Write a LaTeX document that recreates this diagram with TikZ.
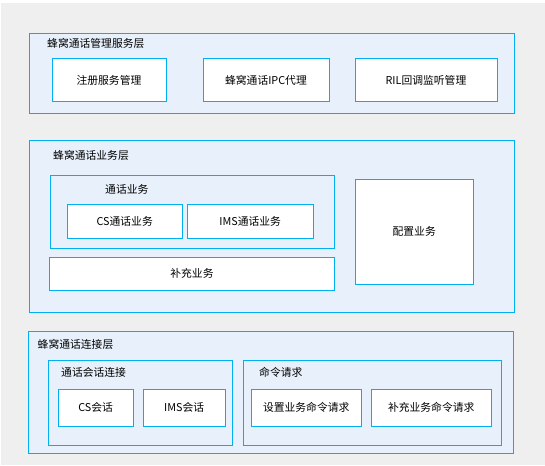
\documentclass[tikz,border=0pt]{standalone}
\usepackage{fontspec}
\newfontfamily\cjk{Noto Sans CJK SC}
\begin{document}
\begin{tikzpicture}[x=1pt,y=-1pt,
  every node/.style={font=\cjk\fontsize{10.8}{13}\selectfont, text=black},
  layer/.style={draw=cyanline, fill=layerfill, line width=0.9pt, inner sep=0, anchor=north west},
  group/.style={draw=cyanline, fill=layerfill, line width=0.9pt, inner sep=0, anchor=north west},
  leaf/.style={draw=cyanline, fill=white, line width=0.9pt, inner sep=0, anchor=north west, align=center},
  ttl/.style={anchor=west, inner sep=0}]
\definecolor{cyanline}{HTML}{00B0F0}
\definecolor{layerfill}{HTML}{E8F1FB}
\definecolor{bggray}{HTML}{EFEFEF}
\useasboundingbox (0,0) rectangle (545,465);
\fill[bggray] (1,3) rectangle (545,465);
% Layer 1
\node[layer, minimum width=485pt, minimum height=80pt] (L1) at (28.5,33) {};
\node[ttl] (L1t) at (47,43.5) {蜂窝通话管理服务层};
\node[leaf, minimum width=114pt, minimum height=43pt] (a1) at (51.5,58) {注册服务管理};
\node[leaf, minimum width=126pt, minimum height=43pt] (a2) at (202.5,58) {蜂窝通话IPC代理};
\node[leaf, minimum width=142pt, minimum height=43pt] (a3) at (354.5,58) {RIL回调监听管理};
% Layer 2
\node[layer, minimum width=485pt, minimum height=171pt] (L2) at (28.5,140.5) {};
\node[ttl] (L2t) at (53,155) {蜂窝通话业务层};
\node[group, minimum width=284pt, minimum height=73pt] (g1) at (50,174.5) {};
\node[ttl] (g1t) at (105,189) {通话业务};
\node[leaf, minimum width=114.5pt, minimum height=34pt] (b1) at (67,203.5) {CS通话业务};
\node[leaf, minimum width=125.5pt, minimum height=34pt] (b2) at (187,203.5) {IMS通话业务};
\node[leaf, minimum width=285pt, minimum height=33pt] (b3) at (49,256.5) {补充业务};
\node[leaf, minimum width=118.5pt, minimum height=105pt] (b4) at (354.5,178.5) {配置业务};
% Layer 3
\node[layer, minimum width=485pt, minimum height=122.5pt] (L3) at (28,330.5) {};
\node[ttl] (L3t) at (37.5,344) {蜂窝通话连接层};
\node[group, minimum width=183.5pt, minimum height=85pt] (g2) at (48,359.5) {};
\node[ttl] (g2t) at (61,372) {通话会话连接};
\node[leaf, minimum width=74.5pt, minimum height=37pt] (c1) at (58,388.5) {CS会话};
\node[leaf, minimum width=81.5pt, minimum height=37pt] (c2) at (143,388.5) {IMS会话};
\node[group, minimum width=257.5pt, minimum height=85pt] (g3) at (243,359.5) {};
\node[ttl] (g3t) at (259,372) {命令请求};
\node[leaf, minimum width=109.5pt, minimum height=37pt] (c3) at (251,388.5) {设置业务命令请求};
\node[leaf, minimum width=119.5pt, minimum height=37pt] (c4) at (371,388.5) {补充业务命令请求};
\end{tikzpicture}
\end{document}
